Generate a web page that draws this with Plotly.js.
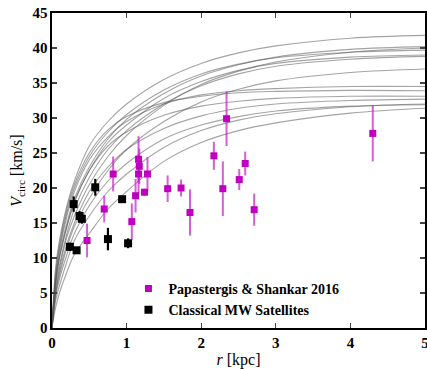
<!DOCTYPE html>
<html>
<head>
<meta charset="utf-8">
<script src="https://cdn.plot.ly/plotly-3.0.1.min.js"></script>
<style>html,body{margin:0;padding:0;background:#fff;}</style>
</head>
<body>
<div id="chart" style="width:427px;height:369px;"></div>
<script>
// Rotation curves (gray lines), sampled at these radii [kpc]
const curveR = [0, 0.05, 0.1, 0.2, 0.3, 0.5, 0.75, 1, 1.5, 2, 2.5, 3, 4, 5];
const curveV = [
  [0, 8.8, 12.5, 17.5, 21, 26, 29.5, 32, 35.5, 37.8, 39.3, 40.3, 41.4, 41.8],
  [0, 7, 10.5, 15, 18.5, 23, 27, 29.8, 33.5, 36, 37.6, 38.7, 39.8, 40.2],
  [0, 5.5, 8.5, 13, 16, 20.5, 24.5, 27.5, 31.8, 34.8, 36.7, 38, 39.4, 40.0],
  [0, 7.5, 11.5, 16.5, 20, 24.5, 28, 30.5, 34, 36.3, 37.7, 38.6, 39.4, 39.7],
  [0, 6, 9, 13.5, 17, 21.5, 25.5, 28.2, 32, 34.6, 36.3, 37.4, 38.4, 38.8],
  [0, 6.5, 10, 14.5, 18, 22.5, 26.5, 29, 32.8, 35.2, 36.8, 37.8, 38.7, 39.0],
  [0, 5, 7.5, 11.5, 14.5, 18.5, 22.5, 25.5, 29.5, 32.3, 34.1, 35.3, 36.5, 37.0],
  [0, 8, 12, 17, 20.5, 25, 28.3, 30.2, 32.2, 33.1, 33.6, 33.8, 33.95, 33.9],
  [0, 7, 11, 16, 19.5, 24, 27.3, 29.5, 32, 33.3, 33.9, 34.2, 34.5, 34.5],
  [0, 6.5, 10, 14.5, 18, 22.5, 26, 28, 30.4, 31.7, 32.4, 32.8, 33.1, 33.1],
  [0, 5, 8, 12, 15, 19.5, 23, 25.5, 28.5, 30.3, 31.4, 32, 32.5, 32.7],
  [0, 4, 6, 9.5, 12.5, 16, 19.5, 22, 25.8, 28.2, 29.7, 30.6, 31.6, 32.0],
  [0, 4.5, 7, 10.5, 13.5, 17.5, 21, 23.5, 27, 29, 30.2, 31, 31.7, 31.9],
  [0, 3, 5, 8, 10.5, 13.5, 17, 19.5, 23.8, 26.5, 28.2, 29.3, 30.7, 31.4]
];

// Papastergis & Shankar 2016
const psR   = [0.47, 0.70, 0.82, 1.07, 1.12, 1.16, 1.17, 1.16, 1.24, 1.28, 1.55, 1.73, 1.85, 2.17, 2.29, 2.34, 2.51, 2.59, 2.71, 4.30];
const psV   = [12.5, 17.0, 22.0, 15.2, 18.9, 24.1, 23.1, 22.0, 19.4, 22.0, 19.9, 20.0, 16.5, 24.6, 19.9, 29.9, 21.2, 23.5, 16.9, 27.8];
const psErr = [2.4, 1.9, 2.5, 2.6, 2.4, 3.3, 2.5, 2.8, 0.5, 2.4, 1.9, 1.2, 3.3, 2.0, 3.9, 3.9, 1.5, 1.7, 2.3, 4.0];

// Classical MW satellites
const mwR   = [0.24, 0.29, 0.33, 0.37, 0.40, 0.58, 0.75, 0.94, 1.02];
const mwV   = [11.6, 17.7, 11.1, 16.0, 15.6, 20.1, 12.7, 18.4, 12.1];
const mwErr = [0.6, 1.1, 0.4, 0.7, 0.7, 1.2, 1.6, 0.5, 0.7];

// Tick values and labels
const xTicks = [0, 1, 2, 3, 4, 5];
const xTickText = ['0', '1', '2', '3', '4', '5'];
const yTicks = [0, 5, 10, 15, 20, 25, 30, 35, 40, 45];
const yTickText = ['0', '5', '10', '15', '20', '25', '30', '35', '40', '45'];

const serif = "Liberation Serif";
const traces = [];
curveV.forEach(v => {
  traces.push({
    x: curveR, y: v, type: 'scatter', mode: 'lines',
    line: {color: 'rgba(90,90,90,0.55)', width: 1.1, shape: 'spline', smoothing: 1},
    showlegend: false, hoverinfo: 'skip'
  });
});
traces.push({
  x: psR, y: psV, type: 'scatter', mode: 'markers',
  name: '<b>Papastergis & Shankar 2016</b>',
  marker: {symbol: 'square', size: 7, color: '#c000c0'},
  error_y: {type: 'data', array: psErr, visible: true, color: 'rgba(200,40,200,0.75)', thickness: 2, width: 0}
});
traces.push({
  x: mwR, y: mwV, type: 'scatter', mode: 'markers',
  name: '<b>Classical MW Satellites</b>',
  marker: {symbol: 'square', size: 8, color: '#000'},
  error_y: {type: 'data', array: mwErr, visible: true, color: '#000', thickness: 2.2, width: 0}
});

const bold = a => a.map(t => '<b>' + t + '</b>');

const layout = {
  width: 427, height: 369,
  margin: {l: 52, r: 2, t: 13, b: 41},
  paper_bgcolor: '#fff', plot_bgcolor: '#fff',
  font: {family: serif, color: '#000', size: 13},
  xaxis: {
    range: [0, 5], tickvals: xTicks, ticktext: bold(xTickText),
    ticks: 'inside', ticklen: 5, tickwidth: 1.2, mirror: 'ticks',
    showline: true, linecolor: '#000', linewidth: 1.6,
    showgrid: false, zeroline: false, ticklabeloverflow: 'allow',
    tickfont: {family: serif, size: 15},
    title: {text: '<i>r</i> [kpc]', font: {family: serif, size: 16}, standoff: 4}
  },
  yaxis: {
    range: [0, 45], tickvals: yTicks, ticktext: bold(yTickText),
    ticks: 'inside', ticklen: 5, tickwidth: 1.2, mirror: 'ticks',
    showline: true, linecolor: '#000', linewidth: 1.6,
    showgrid: false, zeroline: false,
    tickfont: {family: serif, size: 15},
    title: {text: '<i>V</i><sub>circ</sub> [km/s]', font: {family: serif, size: 16}, standoff: 6}
  },
  legend: {
    x: 0.205, y: 0.175, xanchor: 'left', yanchor: 'top',
    bgcolor: 'rgba(0,0,0,0)', borderwidth: 0,
    font: {family: serif, size: 14},
    itemwidth: 30, tracegroupgap: 2
  },
  showlegend: true
};

Plotly.newPlot('chart', traces, layout, {displayModeBar: false, staticPlot: true});
</script>
</body>
</html>
